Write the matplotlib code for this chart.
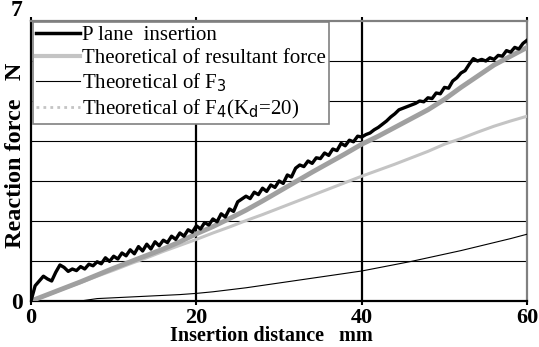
import numpy as np
import matplotlib
matplotlib.use('Agg')
import matplotlib.pyplot as plt
from matplotlib.lines import Line2D

# measured curve: plane insertion (every 0.5 mm)
x_meas = np.arange(0, 60.5, 0.5)
plane = [0.00, 0.38, 0.50, 0.62, 0.55, 0.50, 0.72, 0.90, 0.84, 0.74,
         0.80, 0.76, 0.86, 0.80, 0.92, 0.88, 0.98, 0.93, 1.08, 0.99,
         1.12, 1.05, 1.20, 1.13, 1.28, 1.18, 1.36, 1.25, 1.42, 1.30,
         1.48, 1.38, 1.52, 1.46, 1.62, 1.54, 1.70, 1.62, 1.78, 1.72,
         1.88, 1.80, 1.96, 1.90, 2.05, 1.98, 2.18, 2.10, 2.30, 2.24,
         2.48, 2.55, 2.62, 2.56, 2.72, 2.66, 2.82, 2.74, 2.90, 2.84,
         3.00, 2.94, 3.15, 3.10, 3.32, 3.40, 3.36, 3.50, 3.44, 3.58,
         3.56, 3.70, 3.64, 3.80, 3.76, 3.94, 3.88, 4.02, 3.98, 4.12,
         4.10, 4.16, 4.20, 4.28, 4.34, 4.42, 4.50, 4.60, 4.68, 4.78,
         4.82, 4.86, 4.90, 4.94, 5.00, 4.98, 5.08, 5.06, 5.20, 5.18,
         5.34, 5.32, 5.50, 5.58, 5.70, 5.76, 5.92, 6.06, 6.00, 6.04,
         6.00, 6.08, 6.04, 6.14, 6.12, 6.26, 6.22, 6.34, 6.30, 6.44,
         6.52]

# theoretical curves (every 2 mm)
x_theo = np.arange(0, 62, 2)
resultant = [0.00, 0.16, 0.32, 0.48, 0.65, 0.82, 0.98, 1.14, 1.30, 1.48,
             1.68, 1.86, 2.06, 2.27, 2.50, 2.74, 2.98, 3.22, 3.45, 3.68,
             3.92, 4.12, 4.34, 4.56, 4.78, 5.04, 5.34, 5.62, 5.90, 6.12,
             6.34]
f3 = [0.00, 0.00, 0.00, 0.00, 0.06, 0.08, 0.10, 0.12, 0.14, 0.16,
      0.19, 0.23, 0.28, 0.33, 0.39, 0.45, 0.51, 0.57, 0.63, 0.69,
      0.75, 0.83, 0.91, 0.99, 1.08, 1.17, 1.26, 1.36, 1.46, 1.56,
      1.67]
f4 = [0.00, 0.15, 0.31, 0.46, 0.62, 0.77, 0.93, 1.08, 1.24, 1.39,
      1.54, 1.70, 1.85, 2.01, 2.16, 2.32, 2.48, 2.64, 2.80, 2.96,
      3.12, 3.27, 3.42, 3.58, 3.74, 3.92, 4.06, 4.22, 4.37, 4.50,
      4.62]

labels = ['P lane  insertion', 'Theoretical of resultant force',
          'Theoretical of F$_3$', r'Theoretical of F$_4$(K$_\mathrm{d}$=20)']

serif = 'Liberation Serif'

fig = plt.figure(figsize=(5.39, 3.47), dpi=100)
ax = fig.add_axes([0.0575, 0.1326, 0.9205, 0.8069])

ax.plot(x_theo, f4, color='#c4c4c4', lw=2.2, zorder=3)
ax.plot(x_theo, f3, color='black', lw=0.8, zorder=3)
ax.plot(x_theo, resultant, color='#a0a0a0', lw=3.5, zorder=4)
ax.plot(x_meas, plane, color='black', lw=2.4, zorder=5)

ax.set_xlim(0, 60)
ax.set_ylim(0, 7)

# grid
for v in range(1, 7):
    ax.axhline(v, color='black', lw=0.8, zorder=1)
for v in (20, 40):
    ax.axvline(v, color='black', lw=1.6, zorder=1)

ax.set_xticks([0, 20, 40, 60])
ax.set_xticklabels(['0', '20', '40', '60'], fontfamily=serif,
                   fontweight='bold', fontsize=16)
ax.set_yticks([0, 7])
ax.set_yticklabels(['0', '7'], fontfamily=serif, fontweight='bold', fontsize=17)
ax.get_yticklabels()[1].set_va('bottom')
ax.tick_params(axis='x', direction='out', length=3, width=1.5, pad=2,
               top=True)
ax.tick_params(axis='y', length=0, pad=6)

for s in ('left', 'bottom'):
    ax.spines[s].set_color('black')
    ax.spines[s].set_linewidth(1.6)
for s in ('top', 'right'):
    ax.spines[s].set_color('#808080')
    ax.spines[s].set_linewidth(1.6)

ax.set_xlabel('Insertion distance   mm', fontfamily=serif,
              fontweight='bold', fontsize=14.5)
ax.xaxis.set_label_coords(0.485, -0.09)
ax.set_ylabel('Reaction force   N', fontfamily=serif,
              fontweight='bold', fontsize=17.5)
ax.yaxis.set_label_coords(-0.01, 0.52)

handles = [Line2D([], [], color='black', lw=2.5),
           Line2D([], [], color='#c4c4c4', lw=3),
           Line2D([], [], color='black', lw=0.8),
           Line2D([], [], color='#c4c4c4', lw=2, linestyle=(0, (1, 1.5)))]
leg = ax.legend(handles, labels, loc='upper left', bbox_to_anchor=(0.004, 0.996),
                borderaxespad=0, fancybox=False, framealpha=1,
                edgecolor='#808080', prop={'family': serif, 'size': 15},
                handlelength=2.1, handletextpad=0.1, labelspacing=0.17,
                borderpad=0.15)
leg.get_frame().set_linewidth(1.2)
leg.set_zorder(10)

fig.savefig('out.png', dpi=100)
